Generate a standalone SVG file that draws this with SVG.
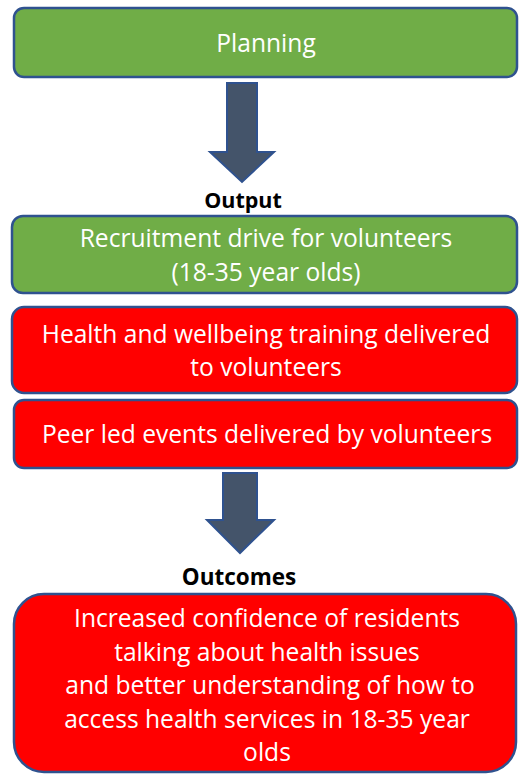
<svg xmlns="http://www.w3.org/2000/svg" width="519" height="774" viewBox="0 0 519 774">
<style>
.box{stroke:#2F528F;stroke-width:2.5}
.green{fill:#70AD47}
.red{fill:#FF0000}
.t{font-family:"Open Sans","Noto Sans",sans-serif;font-size:24.6px;fill:#FFFFFF;text-anchor:middle}
.lbl{font-family:"Open Sans","Noto Sans",sans-serif;font-weight:bold;fill:#000000;text-anchor:middle}
.arrow{fill:#44546A;stroke:#2F528F;stroke-width:2}
</style>
<rect width="519" height="774" fill="#FFFFFF"/>
<g id="connectors">
<polygon class="arrow" points="227,83 257,83 257,152 274,152 242,182 210,152 227,152"/>
<polygon class="arrow" points="223,473 257,473 257,520 274,520 240,553 207,520 223,520"/>
</g>
<g id="planning">
<rect class="box green" x="14" y="8" width="503" height="69" rx="10"/>
<text class="t" x="266" y="52">Planning</text>
</g>
<g id="output-label">
<text class="lbl" x="243" y="208" font-size="21.5">Output</text>
</g>
<g id="recruitment">
<rect class="box green" x="12" y="216" width="505" height="77" rx="11"/>
<text class="t" x="266" y="247">Recruitment drive for volunteers</text>
<text class="t" x="266" y="281">(18-35 year olds)</text>
</g>
<g id="training">
<rect class="box red" x="12" y="307" width="505" height="86" rx="12"/>
<text class="t" x="266" y="343">Health and wellbeing training delivered</text>
<text class="t" x="266" y="376">to volunteers</text>
</g>
<g id="events">
<rect class="box red" x="14" y="400" width="503" height="68" rx="10"/>
<text class="t" x="267" y="443">Peer led events delivered by volunteers</text>
</g>
<g id="outcomes-label">
<text class="lbl" x="239" y="585" font-size="22.5">Outcomes</text>
</g>
<g id="outcomes">
<rect class="box red" x="14" y="594" width="502" height="178" rx="30"/>
<text class="t" x="267" y="627">Increased confidence of residents</text>
<text class="t" x="267" y="661">talking about health issues</text>
<text class="t" x="270" y="694">and better understanding of how to</text>
<text class="t" x="267" y="728">access health services in 18-35 year</text>
<text class="t" x="267" y="761">olds</text>
</g>
</svg>
